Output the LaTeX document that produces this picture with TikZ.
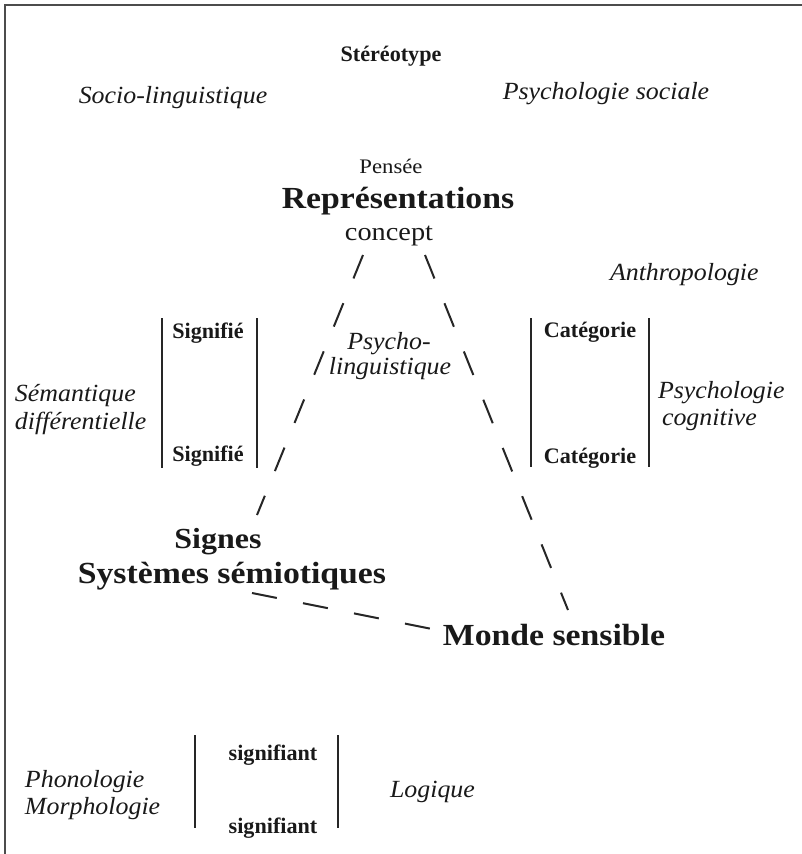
\documentclass[tikz,border=0pt]{standalone}
\usepackage{fontspec}
\setmainfont{Liberation Serif}
\newfontfamily\wideserif{Liberation Serif}[FakeStretch=1.1]
\newfontfamily\itserif{Liberation Serif}[FakeStretch=1.05]
\begin{document}
\begin{tikzpicture}[x=0.75pt,y=-0.75pt,
  every node/.style={inner sep=0pt,outer sep=0pt,anchor=base,text=black!90},
  itl/.style={font=\itserif\fontsize{18.5}{22}\selectfont\itshape},
  lab/.style={font=\fontsize{16.6}{19}\selectfont\bfseries},
  big/.style={font=\wideserif\fontsize{23}{27}\selectfont\bfseries},
  bigs/.style={font=\wideserif\fontsize{21.8}{26}\selectfont\bfseries},
  pens/.style={font=\wideserif\fontsize{15.5}{18}\selectfont},
  conc/.style={font=\wideserif\fontsize{19.3}{22}\selectfont},
  bar/.style={line width=1.2pt,black!85},
  frameline/.style={line width=1.8pt,black!70},
  dashlink/.style={line width=1.5pt,black!85,dash pattern=on 19pt off 20pt}]
\useasboundingbox (0,0) rectangle (802,854);
\fill[white] (0,0) rectangle (802,854);
\draw[frameline] (5,854) -- (5,5) -- (802,5);

\node[lab] (stereo) at (391,61) {Stéréotype};
\node[itl] (socio) at (173,103) {Socio-linguistique};
\node[itl] (psysoc) at (606,99) {Psychologie sociale};
\node[pens] (pensee) at (391,173) {Pensée};
\node[big] (repr) at (398,208) {Représentations};
\node[conc] (concept) at (389,240) {concept};
\node[itl,anchor=base west] (anthro) at (610,280) {Anthropologie};
\node[lab] (signif1) at (208,338) {Signifié};
\node[lab] (categ1) at (590,337) {Catégorie};
\node[itl] (psycho) at (389,349) {Psycho-};
\node[itl] (ling) at (390,374) {linguistique};
\node[itl,anchor=base west] (seman) at (15,401) {Sémantique};
\node[itl,anchor=base west] (diff) at (15,429) {différentielle};
\node[itl,anchor=base west] (psycog) at (658,398) {Psychologie};
\node[itl,anchor=base west] (cogn) at (662,425) {cognitive};
\node[lab] (signif2) at (208,461) {Signifié};
\node[lab] (categ2) at (590,463) {Catégorie};
\node[bigs] (signes) at (218,548) {Signes};
\node[big] (syst) at (232,583) {Systèmes sémiotiques};
\node[big] (monde) at (554,645) {Monde sensible};
\node[lab] (sigant1) at (273,760) {signifiant};
\node[itl,anchor=base west] (phono) at (25,787) {Phonologie};
\node[itl,anchor=base west] (morpho) at (25,814) {Morphologie};
\node[itl,anchor=base west] (logique) at (390,797) {Logique};
\node[lab] (sigant2) at (273,833) {signifiant};

\draw[bar] (162,318) -- (162,468);
\draw[bar] (257,318) -- (257,468);
\draw[bar] (531,318) -- (531,467);
\draw[bar] (649,318) -- (649,467);
\draw[bar] (195,735) -- (195,828);
\draw[bar] (338,735) -- (338,828);

\coordinate (cl) at (363,255);
\coordinate (sg) at (257,515);
\coordinate (cr) at (425,255);
\coordinate (mr) at (568,610);
\coordinate (sy) at (252,593);
\coordinate (ml) at (437,630);
\draw[dashlink] (cl) -- (sg);
\draw[dashlink] (cr) -- (mr);
\draw[dashlink] (sy) -- (ml);
\end{tikzpicture}
\end{document}
